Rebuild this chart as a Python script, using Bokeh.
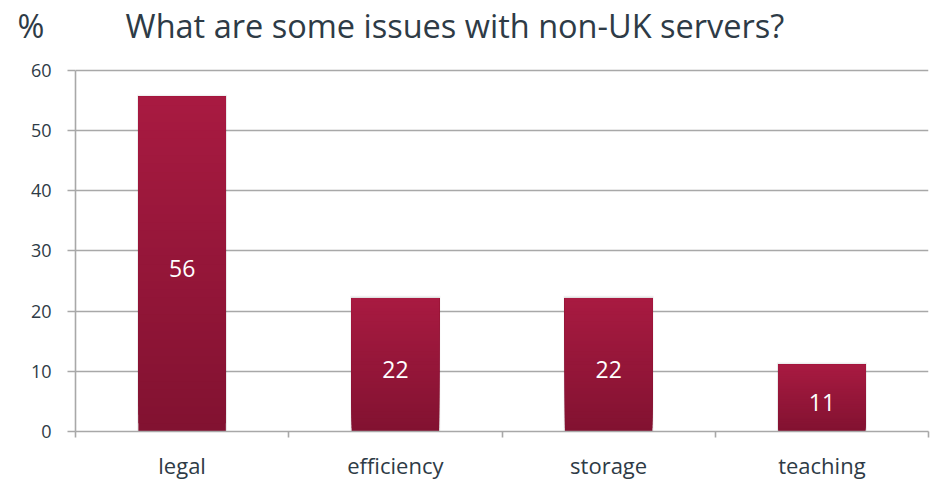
from bokeh.plotting import figure
from bokeh.models import Range1d, FixedTicker, ColumnDataSource
from bokeh.core.properties import value
from bokeh.embed import file_html
from bokeh.resources import INLINE

# ---- data ----
categories = ["legal", "efficiency", "storage", "teaching"]
values = [55.6, 22.2, 22.2, 11.1]
value_labels = ["56", "22", "22", "11"]
y_ticks = [0, 10, 20, 30, 40, 50, 60]
title_text = "What are some issues with non-UK servers?"
unit_text = "%"

# ---- style ----
FONT = "Open Sans"
TEXT_COLOR = "#2e3b46"
GRID_COLOR = "#a8a8a8"
TOP_RGB = (168, 26, 65)
BOTTOM_RGB = (130, 18, 49)
BAR_W = 0.41
N_SLICES = 40
Y_MAX = 60          # top of the drawn axis
Y_VIEW_TOP = 63.8   # a little headroom above the axis for the title row

W, H = 932, 482
p = figure(width=W, height=H, output_backend="svg", toolbar_location=None,
           x_range=Range1d(0, len(categories)), y_range=Range1d(0, Y_VIEW_TOP))
p.min_border_left = 75
p.min_border_right = 4
p.min_border_top = 46
p.min_border_bottom = 49
p.outline_line_color = None
p.background_fill_color = "white"
p.border_fill_color = "white"

# unit sign and title share one line of the title
p.title.text = unit_text + "\u2003\u2003\u2002" + title_text
p.title.align = "left"
p.title.offset = -58
p.title.standoff = 0
p.title.text_font = FONT
p.title.text_font_size = "32.5px"
p.title.text_font_style = "normal"
p.title.text_color = TEXT_COLOR

xs = [i + 0.5 for i in range(len(categories))]

# soft shadow behind bars
p.vbar(x=xs, top=[v + 0.35 for v in values], bottom=0, width=BAR_W + 0.012,
       fill_color="#000000", fill_alpha=0.06, line_color=None)
p.vbar(x=xs, top=[v + 0.15 for v in values], bottom=0, width=BAR_W + 0.006,
       fill_color="#000000", fill_alpha=0.06, line_color=None)

# gradient bars: overlapping layers, each from a fraction of the bar up to its top
sx, sb, st, sc = [], [], [], []
for k in range(N_SLICES):
    t = k / (N_SLICES - 1)
    r = round(BOTTOM_RGB[0] + (TOP_RGB[0] - BOTTOM_RGB[0]) * t)
    g = round(BOTTOM_RGB[1] + (TOP_RGB[1] - BOTTOM_RGB[1]) * t)
    b = round(BOTTOM_RGB[2] + (TOP_RGB[2] - BOTTOM_RGB[2]) * t)
    for x, v in zip(xs, values):
        sx.append(x)
        sb.append(v * k / N_SLICES)
        st.append(v)
        sc.append("#%02x%02x%02x" % (r, g, b))
p.vbar(x=sx, bottom=sb, top=st, width=BAR_W, fill_color=sc, line_color=None)

# value labels inside bars
lab_src = ColumnDataSource(dict(x=xs, y=[v / 2 - 0.8 for v in values], t=value_labels))
p.text(x="x", y="y", text="t", source=lab_src, text_color="white",
       text_align="center", text_baseline="middle",
       text_font=value(FONT), text_font_size="23px")

# axes / grid
p.xgrid.grid_line_color = None
p.ygrid.grid_line_color = GRID_COLOR
p.ygrid.grid_line_width = 1.6
p.ygrid.ticker = FixedTicker(ticks=y_ticks)

p.yaxis.ticker = FixedTicker(ticks=y_ticks)
p.yaxis.bounds = (0, Y_MAX)
p.yaxis.axis_line_color = GRID_COLOR
p.yaxis.axis_line_width = 1.6
p.yaxis.major_tick_line_color = GRID_COLOR
p.yaxis.major_tick_line_width = 1.6
p.yaxis.major_tick_out = 8
p.yaxis.major_tick_in = 0
p.yaxis.minor_tick_line_color = None
p.yaxis.major_label_standoff = 16
p.yaxis.major_label_text_font = FONT
p.yaxis.major_label_text_font_size = "18px"
p.yaxis.major_label_text_color = TEXT_COLOR

p.xaxis.ticker = FixedTicker(ticks=xs, minor_ticks=list(range(len(categories) + 1)))
p.xaxis.major_label_overrides = {x: c for x, c in zip(xs, categories)}
p.xaxis.axis_line_color = GRID_COLOR
p.xaxis.axis_line_width = 1.6
p.xaxis.major_tick_line_color = None
p.xaxis.minor_tick_line_color = GRID_COLOR
p.xaxis.minor_tick_line_width = 1.6
p.xaxis.minor_tick_out = 6
p.xaxis.minor_tick_in = 0
p.xaxis.major_label_standoff = 12
p.xaxis.major_label_text_font = FONT
p.xaxis.major_label_text_font_size = "22px"
p.xaxis.major_label_text_color = TEXT_COLOR

open("out.html", "w").write(file_html(p, INLINE))
